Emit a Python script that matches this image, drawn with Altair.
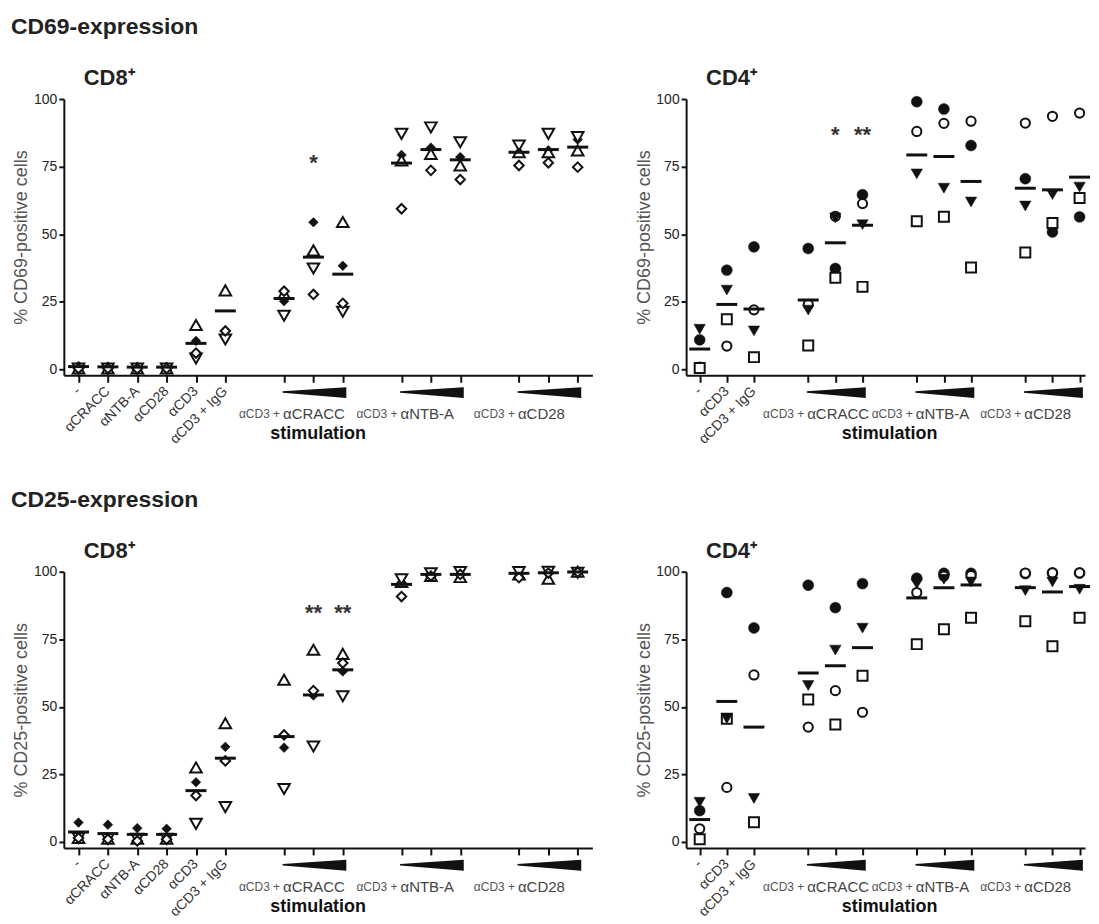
import altair as alt
import pandas as pd

# ---------------- data ----------------
SLOTS_CD8 = [0, 1, 2, 3, 4, 5, 7, 8, 9, 11, 12, 13, 15, 16, 17]
SLOTS_CD4 = [0, 1, 2, 4, 5, 6, 8, 9, 10, 12, 13, 14]
SINGLE_CD8 = ["-", "αCRACC", "αNTB-A", "αCD28", "αCD3", "αCD3 + IgG"]
SINGLE_CD4 = ["-", "αCD3", "αCD3 + IgG"]
GROUP_PREFIX = "αCD3 + "
GROUP_NAMES = ["αCRACC", "αNTB-A", "αCD28"]
GROUPS_CD8 = [[7, 8, 9], [11, 12, 13], [15, 16, 17]]
GROUPS_CD4 = [[4, 5, 6], [8, 9, 10], [12, 13, 14]]

# CD69, CD8+
cd69_cd8_filled_diamond = [1.2, 1.0, 0.9, 0.9, 10.5, 14.2, 25.2, 54.4, 38.3, 79.3, 82.0, 78.5, 80.0, 81.0, 85.0]
cd69_cd8_open_tri_up    = [0.3, 0.3, 0.3, 0.3, 16.4, 29.2, 28.0, 44.0, 54.5, 77.3, 79.7, 75.4, 80.3, 80.3, 81.0]
cd69_cd8_open_tri_down  = [0.3, 0.3, 0.3, 0.3, 4.0, 11.0, 19.8, 37.3, 21.3, 87.1, 89.5, 84.0, 82.8, 87.1, 85.9]
cd69_cd8_open_diamond   = [0.3, 0.3, 0.2, 0.3, 6.0, 14.2, 28.9, 27.7, 24.4, 59.4, 73.6, 70.2, 75.4, 76.4, 74.8]
cd69_cd8_mean           = [1.0, 0.9, 0.8, 0.8, 9.6, 21.6, 26.2, 41.5, 35.2, 76.3, 81.3, 77.5, 80.3, 81.3, 82.2]
cd69_cd8_star_slots = [8]
cd69_cd8_star_text = ["*"]
cd69_cd8_star_level = 78.5

# CD69, CD4+
cd69_cd4_filled_circle   = [10.9, 36.7, 45.3, 44.7, 37.3, 64.6, 99.0, 96.3, 82.8, 70.5, 50.8, 56.4]
cd69_cd4_open_circle     = [0.8, 8.6, 22.0, 24.0, 56.6, 61.3, 88.0, 91.0, 91.8, 91.1, 93.6, 94.8]
cd69_cd4_open_square     = [0.5, 18.5, 4.5, 8.8, 33.9, 30.5, 54.8, 56.4, 37.7, 43.2, 54.1, 63.4]
cd69_cd4_filled_tri_down = [14.8, 29.3, 14.2, 21.9, 56.0, 53.5, 72.3, 67.0, 61.9, 60.4, 64.6, 67.4]
cd69_cd4_mean            = [7.5, 24.0, 22.3, 25.6, 46.8, 53.3, 79.3, 78.7, 69.5, 67.0, 66.4, 71.1]
cd69_cd4_star_slots = [5, 6]
cd69_cd4_star_text = ["*", "**"]
cd69_cd4_star_level = 88.9

# CD25, CD8+
cd25_cd8_filled_diamond = [7.2, 6.4, 5.1, 4.9, 22.1, 35.2, 34.9, 54.2, 63.1, 96.0, 99.0, 99.0, 99.4, 99.8, 100.0]
cd25_cd8_open_tri_up    = [1.5, 1.2, 1.2, 1.2, 27.6, 43.9, 60.0, 71.1, 69.6, 96.2, 98.4, 98.0, 99.0, 97.4, 100.0]
cd25_cd8_open_tri_down  = [1.5, 1.2, 1.2, 1.2, 6.7, 12.9, 19.6, 35.3, 53.9, 97.2, 99.4, 99.9, 99.9, 100.0, 99.6]
cd25_cd8_open_diamond   = [1.5, 1.0, 0.4, 1.0, 17.2, 30.0, 39.6, 56.0, 66.2, 90.8, 98.4, 99.0, 97.8, 99.5, 99.8]
cd25_cd8_mean           = [3.7, 3.1, 2.8, 2.8, 19.0, 31.0, 39.0, 54.4, 63.7, 95.3, 99.0, 99.0, 99.4, 99.6, 99.9]
cd25_cd8_star_slots = [8, 9]
cd25_cd8_star_text = ["**", "**"]
cd25_cd8_star_level = 86.8

# CD25, CD4+
cd25_cd4_filled_circle   = [11.6, 92.3, 79.2, 95.0, 86.7, 95.6, 97.6, 99.4, 99.4, 99.3, 99.5, 99.5]
cd25_cd4_open_circle     = [4.9, 20.2, 61.8, 42.5, 56.0, 48.0, 92.3, 98.4, 98.6, 99.5, 99.6, 99.6]
cd25_cd4_open_square     = [1.0, 45.6, 7.3, 52.7, 43.5, 61.5, 73.2, 78.7, 83.0, 81.7, 72.4, 83.0]
cd25_cd4_filled_tri_down = [14.7, 45.6, 16.1, 57.9, 71.0, 79.1, 95.5, 97.2, 96.2, 93.0, 96.2, 93.5]
cd25_cd4_mean            = [8.3, 52.0, 42.5, 62.5, 65.2, 71.9, 90.3, 94.1, 95.1, 94.1, 92.5, 94.5]

# ---------------- styling ----------------
INK = "#111111"
FONT = "Liberation Sans"
H = 277
YDOM = [-2.2, 100]


def build_panel(slots, series, means, star_slots, star_text, star_level,
                ytitle, ptitle, section, singles, groups, width, xdom, stim_x):
    xs = alt.Scale(domain=xdom, nice=False, zero=False)
    ys = alt.Scale(domain=YDOM, nice=False, zero=False)
    xaxis = alt.Axis(values=slots, labels=False, tickSize=7, tickWidth=2,
                     tickColor=INK, domainColor=INK, domainWidth=2,
                     grid=False, title=None)
    yaxis = alt.Axis(values=[0, 25, 50, 75, 100], tickSize=5, tickWidth=2,
                     tickColor=INK, domainColor=INK, domainWidth=2, grid=False,
                     labelFontSize=14, labelColor="#222", labelPadding=2,
                     labelFont=FONT, title=ytitle, titleFont=FONT,
                     titleFontSize=18, titleFontWeight="normal",
                     titleColor="#555", titleX=-42, titleY=H / 2,
                     titleAngle=270, titleBaseline="middle", titleAlign="center")
    X = alt.X("slot:Q", scale=xs, axis=xaxis)
    Y = alt.Y("value:Q", scale=ys, axis=yaxis)

    layers = []

    # concentration wedges under each group
    wrows = []
    for gi, gs in enumerate(groups):
        wrows.append({"g": gi, "slot": gs[0] - 0.05, "top": -8.1, "bottom": -8.7})
        wrows.append({"g": gi, "slot": gs[-1] + 0.12, "top": -6.6, "bottom": -10.6})
    layers.append(
        alt.Chart(pd.DataFrame(wrows)).mark_area(color=INK, opacity=1)
        .encode(x=X, y=alt.Y("top:Q", scale=ys, axis=yaxis), y2="bottom:Q", detail="g:N")
    )

    # donor symbols
    for vals, shape, filled, size in series:
        df = pd.DataFrame({"slot": slots, "value": vals})
        if filled:
            mk = alt.Chart(df).mark_point(shape=shape, filled=True, fill=INK,
                                          stroke=INK, strokeWidth=0.5,
                                          size=size, opacity=1)
        else:
            mk = alt.Chart(df).mark_point(shape=shape, filled=True, fill="white",
                                          stroke=INK, strokeWidth=2,
                                          size=size, opacity=1, fillOpacity=1)
        layers.append(mk.encode(x=X, y=Y))

    # mean bars
    mdf = pd.DataFrame({"slot": slots, "value": means})
    layers.append(
        alt.Chart(mdf).mark_tick(orient="horizontal", size=21, thickness=3,
                                 color=INK, opacity=1)
        .encode(x=X, y=Y)
    )

    # significance stars
    if star_slots:
        sdf = pd.DataFrame({"slot": star_slots, "value": [star_level] * len(star_slots),
                            "t": star_text})
        layers.append(
            alt.Chart(sdf).mark_text(fontSize=22, fontWeight="bold", color="#333",
                                     baseline="middle", dy=6, font=FONT)
            .encode(x=X, y=Y, text="t:N")
        )

    # rotated single-condition labels
    ldf = pd.DataFrame({"slot": slots[:len(singles)], "label": singles})
    layers.append(
        alt.Chart(ldf).mark_text(angle=315, align="right", baseline="middle",
                                 fontSize=14, color="#333", font=FONT)
        .encode(x=X, y=alt.value(H + 14), text="label:N")
    )

    # group labels
    gdf = pd.DataFrame({"slot": [g[0] for g in groups],
                        "pre": [GROUP_PREFIX] * len(groups),
                        "name": GROUP_NAMES})
    layers.append(
        alt.Chart(gdf).mark_text(align="right", baseline="middle", fontSize=12,
                                 color="#555", font=FONT, dx=-4)
        .encode(x=X, y=alt.value(H + 39), text="pre:N")
    )
    layers.append(
        alt.Chart(gdf).mark_text(align="left", baseline="middle", fontSize=15,
                                 color="#444", font=FONT, dx=-1)
        .encode(x=X, y=alt.value(H + 39), text="name:N")
    )

    # axis title "stimulation"
    layers.append(
        alt.Chart(pd.DataFrame({"t": ["stimulation"]})).mark_text(
            align="center", baseline="middle", fontSize=18, fontWeight="bold",
            color="#111", font=FONT)
        .encode(x=alt.value(stim_x), y=alt.value(H + 59), text="t:N")
    )

    # panel title
    layers.append(
        alt.Chart(pd.DataFrame({"t": [ptitle]})).mark_text(
            align="left", baseline="alphabetic", fontSize=22, fontWeight="bold",
            color="#222", font=FONT)
        .encode(x=alt.value(20), y=alt.value(-14), text="t:N")
    )

    if section:
        layers.append(
            alt.Chart(pd.DataFrame({"t": [section]})).mark_text(
                align="left", baseline="alphabetic", fontSize=23, fontWeight="bold",
                color="#222", font=FONT)
            .encode(x=alt.value(-53), y=alt.value(-65), text="t:N")
        )

    return alt.layer(*layers).properties(width=width, height=H)


CD8_SERIES = lambda fd, tu, td, od: [
    (fd, "diamond", True, 95),
    (tu, "triangle-up", False, 135),
    (td, "triangle-down", False, 135),
    (od, "diamond", False, 90),
]
CD4_SERIES = lambda fc, oc, os_, ft: [
    (fc, "circle", True, 120),
    (oc, "circle", False, 85),
    (os_, "square", False, 100),
    (ft, "triangle-down", True, 130),
]

W8, XD8 = 530, [-0.5, 17.5]
W4, XD4 = 400, [-0.5, 14.2]

pA = build_panel(SLOTS_CD8,
                 CD8_SERIES(cd69_cd8_filled_diamond, cd69_cd8_open_tri_up,
                            cd69_cd8_open_tri_down, cd69_cd8_open_diamond),
                 cd69_cd8_mean, cd69_cd8_star_slots, cd69_cd8_star_text, cd69_cd8_star_level,
                 "% CD69-positive cells", "CD8⁺", "CD69-expression",
                 SINGLE_CD8, GROUPS_CD8, W8, XD8, 255)
pB = build_panel(SLOTS_CD4,
                 CD4_SERIES(cd69_cd4_filled_circle, cd69_cd4_open_circle,
                            cd69_cd4_open_square, cd69_cd4_filled_tri_down),
                 cd69_cd4_mean, cd69_cd4_star_slots, cd69_cd4_star_text, cd69_cd4_star_level,
                 "% CD69-positive cells", "CD4⁺", None,
                 SINGLE_CD4, GROUPS_CD4, W4, XD4, 204)
pC = build_panel(SLOTS_CD8,
                 CD8_SERIES(cd25_cd8_filled_diamond, cd25_cd8_open_tri_up,
                            cd25_cd8_open_tri_down, cd25_cd8_open_diamond),
                 cd25_cd8_mean, cd25_cd8_star_slots, cd25_cd8_star_text, cd25_cd8_star_level,
                 "% CD25-positive cells", "CD8⁺", "CD25-expression",
                 SINGLE_CD8, GROUPS_CD8, W8, XD8, 255)
pD = build_panel(SLOTS_CD4,
                 CD4_SERIES(cd25_cd4_filled_circle, cd25_cd4_open_circle,
                            cd25_cd4_open_square, cd25_cd4_filled_tri_down),
                 cd25_cd4_mean, [], [], 0,
                 "% CD25-positive cells", "CD4⁺", None,
                 SINGLE_CD4, GROUPS_CD4, W4, XD4, 204)

chart = (
    alt.concat(pA, pB, pC, pD, columns=2,
               spacing={"row": 197, "column": 94}, bounds="flush", align="each")
    .properties(padding={"left": 3, "top": 7, "right": 0, "bottom": 0})
    .configure(font=FONT)
    .configure_view(stroke=None)
)

chart.save("out.html", embed_options={"renderer": "svg", "actions": False})
